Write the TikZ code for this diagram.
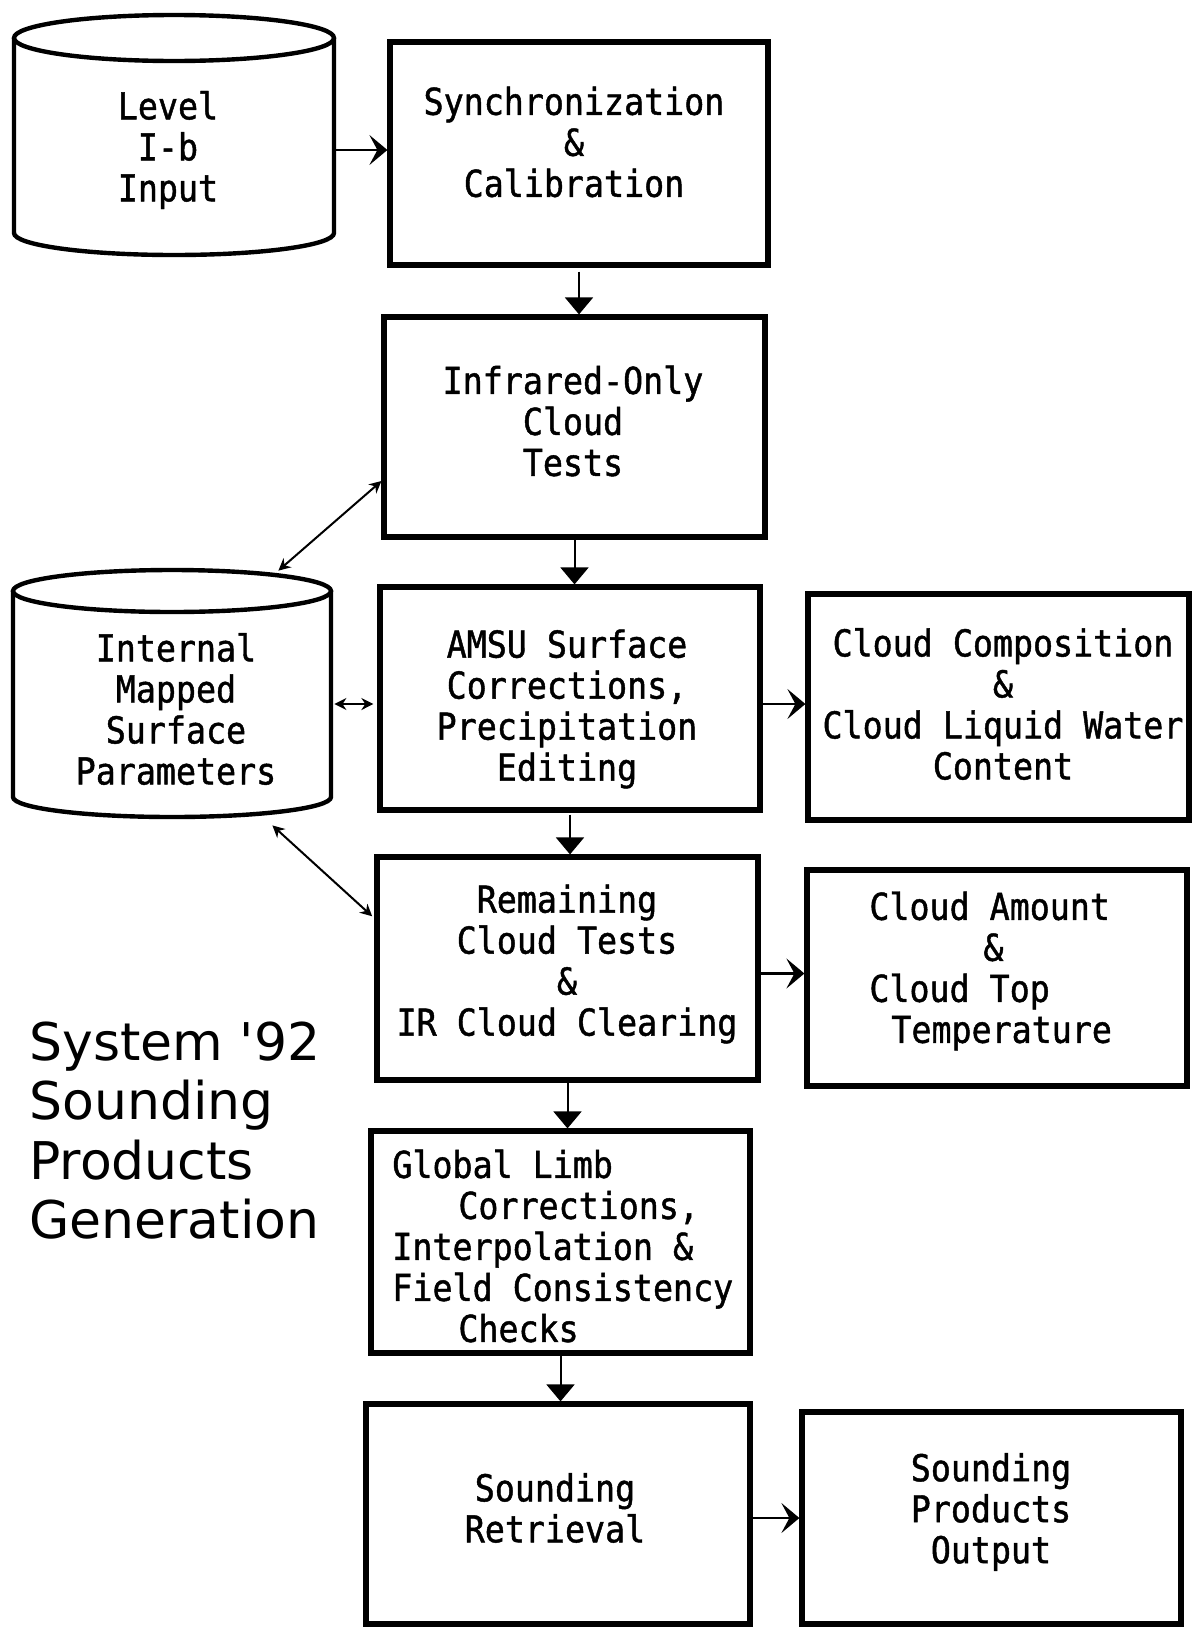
\documentclass[tikz,border=0pt]{standalone}
\usepackage{fontspec}
\usetikzlibrary{arrows.meta,fit,calc}
\newfontfamily\boxfont[FakeStretch=0.9,FakeBold=1.2]{DejaVu Sans Mono}
\newfontfamily\titlefont{DejaVu Sans}

\begin{document}
\begin{tikzpicture}[x=0.5pt,y=-0.5pt,
  box/.style={draw,line width=2.6pt,inner sep=0pt},
  anchorbox/.style={inner sep=0pt},
  cyl/.style={line width=2.2pt},
  txt/.style={align=center,inner sep=0pt,font=\boxfont\fontsize{18.5pt}{20.5pt}\selectfont},
  varr/.style={line width=1pt,-{Triangle[length=8.5pt,width=14pt]}},
  harr/.style={line width=1.2pt,-{Stealth[length=9pt,width=15pt,inset=4pt]}},
  dblarr/.style={line width=1pt,{Stealth[length=6pt,width=6pt]}-{Stealth[length=6pt,width=6pt]}}
]
\fill[white] (0,0) rectangle (1200,1628);
\useasboundingbox (0,0) rectangle (1200,1628);

% input store
\node[anchorbox, fit={(14,15) (334,255)}] (lvl) {};
\draw[cyl] (14,38) -- (14,233) arc[start angle=180,end angle=0,x radius=160,y radius=22] -- (334,38);
\draw[cyl] (174,38) ellipse[x radius=160,y radius=23];
\node[txt] (lvlT) at (168,150) {Level\\I-b\\Input};

% internal surface store
\node[anchorbox, fit={(13,570) (331,817)}] (cylB) {};
\draw[cyl] (13,591) -- (13,797) arc[start angle=180,end angle=0,x radius=159,y radius=20] -- (331,591);
\draw[cyl] (172,591) ellipse[x radius=159,y radius=21];
\node[txt] (cylBT) at (176,709) {Internal\\Mapped\\Surface\\Parameters};

% processing boxes
\node[box, fit={(390,42) (768,265)}] (sync) {};
\node[box, fit={(384,317) (765,537)}] (ir) {};
\node[box, fit={(380,587) (760,810)}] (amsu) {};
\node[box, fit={(808,594) (1189,820)}] (cc) {};
\node[box, fit={(377,857) (758,1080)}] (rem) {};
\node[box, fit={(807,870) (1187,1086)}] (ca) {};
\node[box, fit={(371,1131) (750,1353)}] (glob) {};
\node[box, fit={(366,1404) (750,1624)}] (sr) {};
\node[box, fit={(802,1412) (1181,1624)}] (out) {};

\node[txt] (syncT) at (574,142) {Synchronization\\\&\\Calibration};
\node[txt] (irT) at (573,421) {Infrared-Only\\Cloud\\Tests};
\node[txt] (amsuT) at (567,709) {AMSU Surface\\Corrections,\\Precipitation\\Editing};
\node[txt] (ccT) at (1003,704) {Cloud Composition\\\&\\Cloud Liquid Water\\Content};
\node[txt] (remT) at (567,964) {Remaining\\Cloud Tests\\\&\\IR Cloud Clearing};
\node[txt, align=left, anchor=west] (caT) at (869,971) {Cloud Amount\\\hspace*{57pt}\&\\Cloud Top\\\hspace*{11pt}Temperature};
\node[txt, align=left, anchor=west] (globT) at (392,1246) {Global Limb\\\hspace*{33pt}Corrections,\\Interpolation \&\\Field Consistency\\\hspace*{33pt}Checks};
\node[txt] (srT) at (555,1508) {Sounding\\Retrieval};
\node[txt] (outT) at (991,1512) {Sounding\\Products\\Output};

% title
\node[anchor=north west, align=left, inner sep=0pt,
      font=\titlefont\fontsize{26pt}{29.75pt}\selectfont] (title) at (29,1021)
      {System \textquotesingle92\\Sounding\\Products\\Generation};

% flow connectors
\draw[harr] (lvl.east |- lvlT.center) -- (sync.west |- lvlT.center);
\draw[varr,shorten <=2pt] (sync.south) -- (sync.south |- ir.north);
\draw[varr] (ir.south) -- (ir.south |- amsu.north);
\draw[varr,shorten <=1pt] (amsu.south) -- (amsu.south |- rem.north);
\draw[varr] (rem.south) -- (rem.south |- glob.north);
\draw[varr] (glob.south) -- (glob.south |- sr.north);
\draw[harr] (amsu.east |- ccT.center) -- (cc.west |- ccT.center);
\draw[harr] ([yshift=-2.5pt]rem.east) -- ([yshift=-2.5pt]rem.east -| ca.west);
\draw[harr] (sr.east |- out.west) -- (out.west);

% exchanges with the surface store
\draw[dblarr,shorten <=1.5pt,shorten >=2pt] (cylB.east |- ccT.center) -- (amsu.west |- ccT.center);
\draw[dblarr] ($(cylB.north east)+(-53,1)$) -- ($(ir.north west)!0.74!(ir.south west)$);
\draw[dblarr,shorten >=1.5pt] ($(cylB.south east)+(-59,8)$) -- ($(rem.north west)!0.28!(rem.south west)$);
\end{tikzpicture}
\end{document}
